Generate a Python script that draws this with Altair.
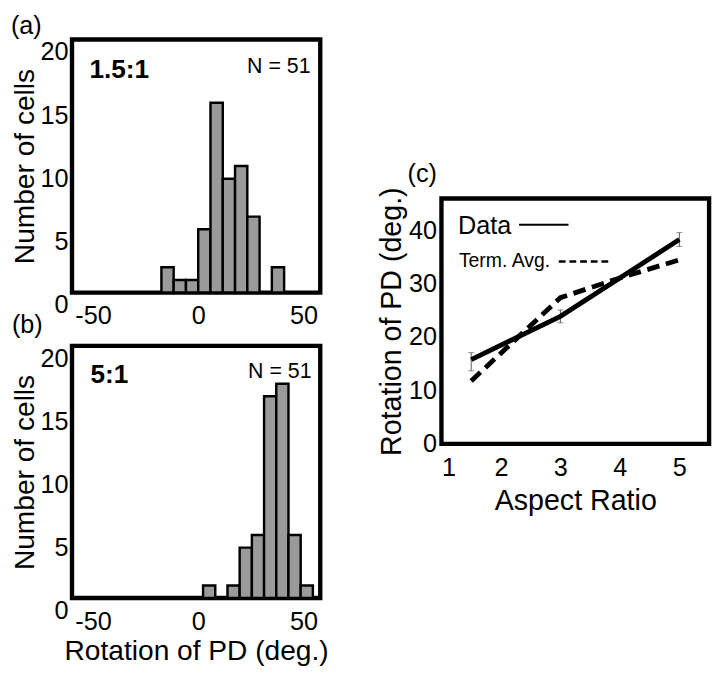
import altair as alt
import pandas as pd

FONT = "Liberation Sans"

# ---------------- data ----------------
# Panel (a): aspect ratio 1.5:1
a_bin_start = [-17.5, -11.67, -5.83, 0.0, 5.83, 11.67, 17.5, 23.33, 35.0]
a_bin_end = [-11.67, -5.83, 0.0, 5.83, 11.67, 17.5, 23.33, 29.17, 40.83]
a_counts = [2, 1, 1, 5, 15, 9, 10, 6, 2]

# Panel (b): aspect ratio 5:1
b_bin_start = [2.3, 13.9, 19.7, 25.5, 31.3, 37.1, 42.9, 48.7]
b_bin_end = [8.1, 19.7, 25.5, 31.3, 37.1, 42.9, 48.7, 54.5]
b_counts = [1, 1, 4, 5, 16, 17, 5, 1]

hist_x_ticks = [-50, 0, 50]
hist_y_ticks = [0, 5, 10, 15, 20]

# Panel (c)
ratio = [1.5, 3, 5]
data_mean = [15.8, 23.9, 38.3]
data_low = [13.7, 22.7, 37.0]
data_high = [17.1, 25.1, 39.6]
term_ratio = [1.5, 3, 4, 5]
term_avg = [11.8, 27.4, 31.1, 34.5]
c_x_ticks = [1, 2, 3, 4, 5]
c_y_ticks = [0, 10, 20, 30, 40]


def label(text, x, y, size, bold=False, align="left", baseline="alphabetic"):
    return alt.Chart(pd.DataFrame({"t": [text]})).mark_text(
        font=FONT, fontSize=size, fontWeight="bold" if bold else "normal",
        align=align, baseline=baseline, color="black"
    ).encode(x=alt.value(x), y=alt.value(y), text="t:N")


def hist(starts, ends, counts, xtitle, tag, tag_xy, ratio_text, ratio_xy, n_xy, w, h):
    df = pd.DataFrame({"start": starts, "end": ends, "count": counts})
    xaxis = alt.Axis(values=hist_x_ticks, labelExpr="toString(datum.value)",
                     labelPadding=11, labelFontSize=26, titleFontSize=29,
                     titlePadding=3)
    xscale = alt.Scale(domain=[-60, 58], nice=False, zero=False)
    if xtitle:
        x = alt.X("start:Q", title=xtitle, axis=xaxis, scale=xscale)
    else:
        x = alt.X("start:Q", title=None, axis=xaxis, scale=xscale)
    bars = alt.Chart(df).mark_rect(fill="#9a9a9a", stroke="black", strokeWidth=2.5).encode(
        x=x,
        x2="end:Q",
        y=alt.Y("count:Q", title="Number of cells",
                scale=alt.Scale(domain=[0, 20], nice=False),
                axis=alt.Axis(values=hist_y_ticks, labelBaseline="top",
                              labelPadding=4, labelFontSize=26,
                              titleFontSize=29, titlePadding=1)),
        y2=alt.datum(0),
    )
    layers = [
        bars,
        label(ratio_text, ratio_xy[0], ratio_xy[1], 27, bold=True),
        label("N = 51", n_xy[0], n_xy[1], 22, align="right"),
        label(tag, tag_xy[0], tag_xy[1], 26),
    ]
    return alt.layer(*layers).properties(width=w, height=h)


pa = hist(a_bin_start, a_bin_end, a_counts, None, "(a)", (-63, -6),
          "1.5:1", (18, 40), (246, 35), 256, 261)
pb = hist(b_bin_start, b_bin_end, b_counts, "Rotation of PD (deg.)", "(b)", (-62, -13),
          "5:1", (19, 38), (247, 33), 256, 260)

left = alt.vconcat(pa, pb, spacing=55, bounds="flush")

# Panel (c)
cdf = pd.DataFrame({"ratio": ratio, "mean": data_mean, "low": data_low, "high": data_high})
tdf = pd.DataFrame({"ratio": term_ratio, "avg": term_avg})

xs = alt.Scale(domain=[1, 5.5], nice=False, zero=False)
ys = alt.Scale(domain=[0, 46], nice=False)
xax = alt.Axis(values=c_x_ticks, labelPadding=12, labelFontSize=26,
               titleFontSize=29.5, titlePadding=7)
yax = alt.Axis(values=c_y_ticks, labelPadding=5, labelFontSize=26,
               titleFontSize=29.5, titlePadding=2)

err = alt.Chart(cdf).mark_errorbar(
    ticks={"size": 6, "color": "#555555", "thickness": 1},
    rule={"color": "#555555", "strokeWidth": 1},
).encode(
    x=alt.X("ratio:Q", title="Aspect Ratio", scale=xs, axis=xax),
    y=alt.Y("low:Q", title="Rotation of PD (deg.)", scale=ys, axis=yax),
    y2="high:Q",
)
data_line = alt.Chart(cdf).mark_line(color="black", strokeWidth=5).encode(
    x=alt.X("ratio:Q", scale=xs, axis=xax, title="Aspect Ratio"),
    y=alt.Y("mean:Q", scale=ys, axis=yax, title="Rotation of PD (deg.)"),
)
term_line = alt.Chart(tdf).mark_line(color="black", strokeWidth=5,
                                     strokeDash=[13, 7], strokeCap="butt").encode(
    x=alt.X("ratio:Q", scale=xs, axis=xax, title="Aspect Ratio"),
    y=alt.Y("avg:Q", scale=ys, axis=yax, title="Rotation of PD (deg.)"),
)
leg_solid = alt.Chart(pd.DataFrame({"t": [0]})).mark_rule(color="black", strokeWidth=2).encode(
    x=alt.value(80), x2=alt.value(131), y=alt.value(27))
leg_dash = alt.Chart(pd.DataFrame({"t": [0]})).mark_rule(
    color="black", strokeWidth=2.5, strokeDash=[7, 4]).encode(
    x=alt.value(121), x2=alt.value(172), y=alt.value(65))

pc = alt.layer(
    err, data_line, term_line,
    label("Data", 17, 37, 26),
    leg_solid,
    label("Term. Avg.", 18, 71, 20),
    leg_dash,
    label("(c)", -35, -17, 26),
).properties(width=276, height=253)

spacer = alt.Chart(pd.DataFrame({"t": [""]})).mark_text().encode(text="t:N").properties(
    width=10, height=164, view=alt.ViewBackground(stroke="transparent"))

right = alt.vconcat(spacer, pc, spacing=0, bounds="flush")

chart = alt.hconcat(left, right, spacing=45).properties(
    padding={"top": -8, "left": 0, "right": 0, "bottom": 0}
).configure_view(
    stroke="black", strokeWidth=4.5
).configure_axis(
    labelFont=FONT, titleFont=FONT, labelColor="black", titleColor="black",
    ticks=False, domain=False, grid=False, titleFontWeight="normal"
)

chart.save("out.html", embed_options={"renderer": "svg", "actions": False})
